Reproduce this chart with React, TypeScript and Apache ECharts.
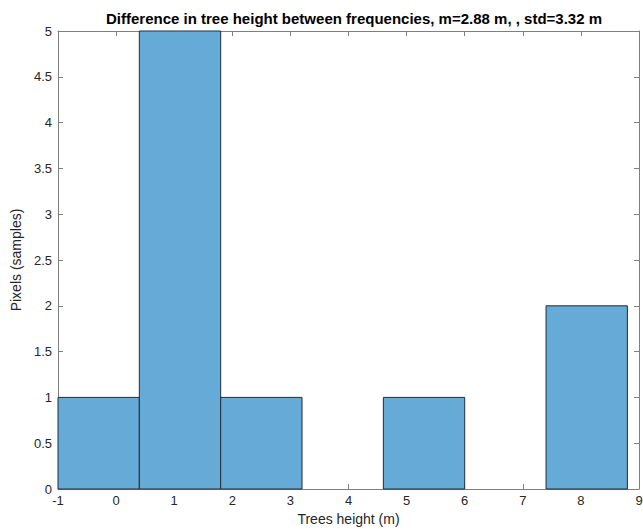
import React, { useEffect, useRef } from "react";
import * as echarts from "echarts";

const binStarts = [-1, 0.4, 1.8, 3.2, 4.6, 6.0, 7.4];
const binWidth = 1.4;
const counts = [1, 5, 1, 0, 1, 0, 2];
const titleText = "Difference in tree height between frequencies, m=2.88 m, , std=3.32 m";
const xName = "Trees height (m)";
const yName = "Pixels (samples)";

const AX = "#262626";
const LINE = "#7f7f7f";
const FONT = "Liberation Sans, Arial, Helvetica, sans-serif";

export default function App() {
  const ref = useRef<HTMLDivElement>(null);
  useEffect(() => {
    document.body.style.margin = "0";
    const chart = echarts.init(ref.current!, null, { renderer: "svg" });
    const data = binStarts.map((s, i) => [s, s + binWidth, counts[i]]);
    const axisLine = { show: true, onZero: false, lineStyle: { color: LINE, width: 1 } };
    const tick = { show: true, inside: true, length: 5, lineStyle: { color: LINE } };
    chart.setOption({
      animation: false,
      backgroundColor: "#ffffff",
      title: {
        text: titleText,
        left: 349,
        textAlign: "center",
        top: 6,
        textStyle: { fontFamily: FONT, fontSize: 15, fontWeight: "bold", color: "#000" },
      },
      grid: { left: 58, right: 4, top: 31, bottom: 40, outerBoundsMode: "none", containLabel: false },
      xAxis: [
        {
          type: "value",
          min: -1,
          max: 9,
          interval: 1,
          axisLine,
          axisTick: tick,
          splitLine: { show: false },
          axisLabel: { color: AX, fontFamily: FONT, fontSize: 13, margin: 5, showMinLabel: true, showMaxLabel: true },
          name: xName,
          nameLocation: "middle",
          nameGap: 14,
          nameTextStyle: { color: AX, fontFamily: FONT, fontSize: 14 },
        },
        {
          type: "value",
          position: "top",
          min: -1,
          max: 9,
          interval: 1,
          axisLine,
          axisTick: tick,
          splitLine: { show: false },
          axisLabel: { show: false },
        },
      ],
      yAxis: [
        {
          type: "value",
          min: 0,
          max: 5,
          interval: 0.5,
          axisLine,
          axisTick: tick,
          splitLine: { show: false },
          axisLabel: { color: AX, fontFamily: FONT, fontSize: 13, margin: 6, showMinLabel: true, showMaxLabel: true },
          name: yName,
          nameLocation: "middle",
          nameGap: 27,
          nameTextStyle: { color: AX, fontFamily: FONT, fontSize: 14 },
        },
        {
          type: "value",
          position: "right",
          min: 0,
          max: 5,
          interval: 0.5,
          axisLine,
          axisTick: tick,
          splitLine: { show: false },
          axisLabel: { show: false },
        },
      ],
      series: [
        {
          type: "custom",
          xAxisIndex: 0,
          yAxisIndex: 0,
          data,
          encode: { x: [0, 1], y: 2 },
          renderItem: (params: any, api: any) => {
            const c = api.value(2);
            if (!c) return null;
            const p0 = api.coord([api.value(0), c]);
            const p1 = api.coord([api.value(1), 0]);
            return {
              type: "rect",
              shape: { x: p0[0], y: p0[1], width: p1[0] - p0[0], height: p1[1] - p0[1] },
              style: { fill: "#66aad7", stroke: "#1f2e3a", lineWidth: 1 },
            };
          },
        },
      ],
    });
    return () => chart.dispose();
  }, []);
  return <div ref={ref} style={{ width: 643, height: 529 }} />;
}
